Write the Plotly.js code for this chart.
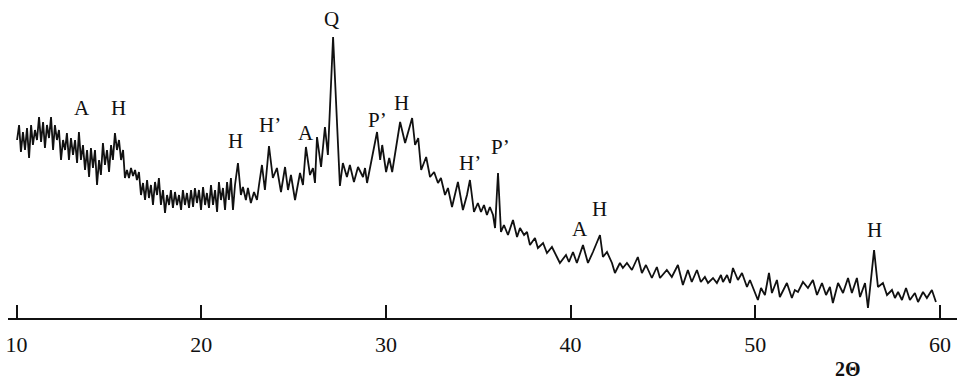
<!DOCTYPE html>
<html>
<head>
<meta charset="utf-8">
<script src="https://cdn.plot.ly/plotly-3.0.1.min.js"></script>
<style>
  html, body { margin: 0; padding: 0; background: #ffffff; }
  #chart { width: 957px; height: 382px; }
</style>
</head>
<body>
<div id="chart"></div>
<script>
// X-ray diffraction pattern: diffraction angle (2θ, degrees) and intensity (arb. units)
const twoTheta = [
  10.03,10.14,10.24,10.35,10.46,10.57,10.68,10.79,10.89,11.00,11.11,11.22,11.33,11.44,11.54,11.65,11.76,11.87,11.98,12.08,
  12.19,12.30,12.41,12.52,12.63,12.73,12.84,12.95,13.06,13.17,13.28,13.38,13.49,13.60,13.71,13.82,13.93,14.03,14.14,14.25,
  14.36,14.47,14.57,14.68,14.79,14.90,15.01,15.12,15.22,15.33,15.44,15.55,15.66,15.77,15.87,15.98,16.09,16.20,16.31,16.42,
  16.52,16.63,16.74,16.85,16.96,17.07,17.17,17.28,17.39,17.50,17.61,17.71,17.82,17.93,18.04,
  18.15,18.26,18.36,18.47,18.58,18.69,18.80,18.91,19.01,19.12,19.23,19.34,19.45,19.56,19.66,19.77,19.88,19.99,20.10,20.21,
  20.31,20.42,20.53,20.64,20.75,20.86,20.96,21.07,21.18,21.29,21.40,21.50,21.61,21.72,21.83,21.99,22.15,22.26,22.42,22.53,
  22.69,22.86,23.02,23.13,23.29,23.45,23.67,23.88,24.10,24.32,24.54,24.70,24.86,25.08,25.35,25.51,25.67,25.89,26.05,26.16,
  26.27,26.49,26.70,26.86,27.14,27.51,27.67,27.89,28.05,28.27,28.49,28.76,28.87,28.98,29.52,29.69,29.80,30.01,30.18,30.34,
  30.77,31.04,31.42,31.58,31.75,31.91,32.18,32.39,32.61,32.82,32.98,33.20,33.36,33.58,33.90,34.17,34.39,34.55,34.77,34.98,
  35.15,35.31,35.47,35.63,35.80,35.91,36.07,36.23,36.39,36.61,36.88,37.10,37.26,37.48,37.64,37.80,38.07,38.23,38.51,38.72,
  38.99,39.26,39.42,39.75,39.91,40.13,40.34,40.67,40.94,41.21,41.59,41.75,41.97,42.24,42.40,42.67,42.83,43.05,43.32,43.64,
  43.86,44.08,44.40,44.67,44.84,45.21,45.48,45.81,46.08,46.35,46.56,46.84,47.05,47.27,47.44,47.71,47.92,48.14,48.25,48.47,
  48.63,48.79,49.06,49.28,49.55,49.71,49.87,50.14,50.31,50.52,50.74,50.90,51.17,51.33,51.71,51.98,52.14,52.31,52.58,52.85,
  53.12,53.34,53.61,53.83,54.04,54.20,54.48,54.75,55.02,55.23,55.50,55.67,55.94,56.10,56.43,56.64,56.91,57.13,57.40,57.56,
  57.73,57.94,58.16,58.37,58.64,58.81,59.08,59.29,59.56,59.78
];

const intensity = [
  178,193,166,186,168,190,160,193,173,188,178,201,176,196,170,193,180,201,168,193,
  178,188,158,178,168,185,158,180,163,178,155,186,158,173,148,168,141,170,150,168,
  133,158,143,175,153,168,146,173,158,185,168,178,158,168,140,148,140,150,142,148,
  138,146,123,135,118,138,120,133,113,136,123,140,113,128,105,
  123,113,128,110,126,113,123,108,128,113,125,110,128,111,130,115,128,108,131,113,
  125,110,133,113,128,106,136,118,130,108,136,118,140,108,133,155,123,131,118,130,
  115,126,118,133,153,128,172,140,150,126,151,128,143,118,145,133,171,143,150,135,
  181,151,191,163,281,132,155,141,153,136,151,141,150,135,186,158,173,146,160,146,
  196,175,200,173,180,148,161,141,146,135,140,123,130,111,136,108,123,138,106,115,
  106,113,103,111,103,90,145,86,93,83,98,81,90,83,86,73,80,70,75,65,
  71,61,55,63,56,66,55,73,55,66,83,61,66,55,45,55,50,55,48,61,
  45,53,40,51,40,48,41,53,33,48,36,48,36,41,35,40,35,43,36,43,
  35,50,38,45,31,38,30,18,30,23,45,25,38,21,35,20,28,26,36,30,
  38,23,35,23,31,15,35,25,40,25,40,21,35,10,68,31,35,23,28,20,
  26,18,30,18,25,16,26,20,28,16
];

// Phase labels placed above their reflections
const peakLabels = ["A", "H", "H", "H’", "A", "Q", "P’", "H", "H’", "P’", "A", "H", "H"];
const labelTheta = [13.55, 15.50, 21.88, 23.73, 25.67, 27.08, 29.52, 30.87, 34.55, 36.18, 40.51, 41.59, 56.48];
const labelHeight = [210, 210, 177, 193, 185, 299, 198, 215, 155, 171, 89, 109, 88];

const tickValues = [10, 20, 30, 40, 50, 60];
const tickText = ["10", "20", "30", "40", "50", "60"];

const serif = '"Liberation Serif", "Times New Roman", Times, serif';

const trace = {
  x: twoTheta,
  y: intensity,
  type: "scatter",
  mode: "lines",
  line: { color: "#111111", width: 1.8 },
  hoverinfo: "skip"
};

const annotations = peakLabels.map((t, i) => ({
  x: labelTheta[i],
  y: labelHeight[i],
  xref: "x",
  yref: "y",
  text: t,
  showarrow: false,
  xanchor: "center",
  yanchor: "middle",
  borderpad: 0,
  font: { family: serif, size: 21, color: "#111111" }
}));

annotations.push({
  x: 55.0,
  y: -0.16,
  xref: "x",
  yref: "paper",
  text: "<b>2Θ</b>",
  showarrow: false,
  xanchor: "center",
  yanchor: "middle",
  borderpad: 0,
  font: { family: serif, size: 20, color: "#111111" }
});

const layout = {
  width: 957,
  height: 382,
  margin: { l: 8, r: 0, t: 0, b: 64, pad: 0 },
  paper_bgcolor: "#ffffff",
  plot_bgcolor: "#ffffff",
  showlegend: false,
  xaxis: {
    range: [9.54, 60.92],
    showgrid: false,
    zeroline: false,
    showline: true,
    linecolor: "#111111",
    linewidth: 1.5,
    ticks: "inside",
    ticklen: 13,
    tickwidth: 2,
    tickcolor: "#111111",
    tickvals: tickValues,
    ticktext: tickText,
    ticklabelstandoff: 6,
    tickfont: { family: serif, size: 22, color: "#111111" }
  },
  yaxis: {
    range: [0, 318],
    visible: false,
    showgrid: false,
    zeroline: false
  },
  annotations: annotations
};

Plotly.newPlot("chart", [trace], layout, { displayModeBar: false, staticPlot: true });
</script>
</body>
</html>
